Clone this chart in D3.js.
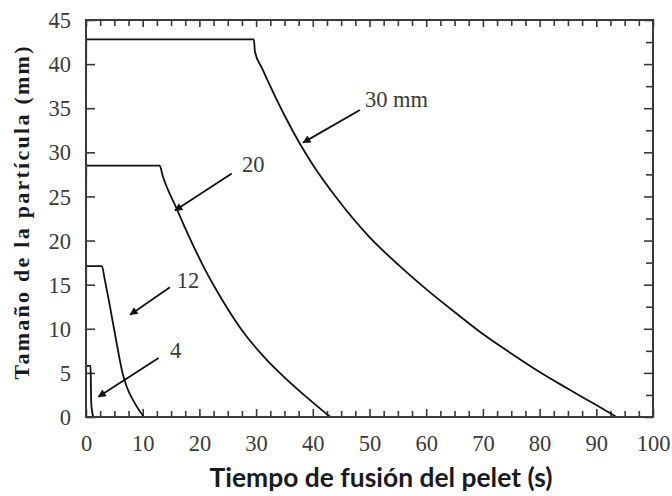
<!DOCTYPE html>
<html>
<head>
<meta charset="utf-8">
<script src="https://cdn.jsdelivr.net/npm/d3@7"></script>
<style>
  html, body { margin: 0; padding: 0; background: #fff; }
  svg { display: block; }
</style>
</head>
<body>
<svg id="chart" width="672" height="496"></svg>
<script>
// Pellet melting time vs particle size, for four initial pellet sizes
const timeTicks = [0, 10, 20, 30, 40, 50, 60, 70, 80, 90, 100];
const sizeTicks = [0, 5, 10, 15, 20, 25, 30, 35, 40, 45];

// [time (s), particle size (mm)]
const curve30 = [[0, 28], [0.05, 42.8], [29.6, 42.8], [29.8, 41.4], [31.0, 39.6], [32.5, 37.5],
  [35.0, 34.2], [37.7, 31.0], [40.0, 28.6], [44.0, 25.0], [50.0, 20.4], [55.0, 17.3],
  [60.0, 14.5], [65.0, 11.9], [70.0, 9.4], [75.0, 7.2], [80.0, 5.1], [85.0, 3.2],
  [90.0, 1.35], [93.6, 0]];
const curve20 = [[0, 17], [0.05, 28.5], [13.0, 28.5], [13.5, 27.4], [16.0, 23.6], [18.5, 20.0],
  [21.0, 16.7], [24.0, 13.3], [28.0, 9.4], [32.0, 6.4], [35.0, 4.5], [39.0, 2.2], [43.1, 0]];
const curve12 = [[0, 12], [0.05, 17.1], [2.8, 17.1], [3.3, 15.6], [4.0, 13.3], [4.6, 11.2],
  [5.2, 9.1], [5.8, 7.0], [6.4, 5.1], [7.2, 3.4], [8.4, 1.8], [10.2, 0]];
const curve4 = [[0, 4], [0.05, 5.8], [0.8, 5.8], [0.85, 4.5], [0.9, 2.0], [1.0, 1.0], [1.3, 0]];

// Callout labels: text anchor, arrow tail and arrow tip, in data units
const calloutLabels = ["30 mm", "20", "12", "4"];
const calloutText = [[49.2, 35.1], [27.5, 27.8], [16.0, 14.6], [14.8, 6.7]];
const calloutTail = [[48.3, 34.8], [25.7, 27.6], [14.8, 14.7], [12.8, 6.7]];
const calloutTip = [[38.3, 31.1], [15.7, 23.4], [7.8, 11.6], [2.2, 2.3]];

const svg = d3.select("#chart");
const margin = { left: 86, top: 20, right: 19, bottom: 79 };
const W = 672, H = 496;

const x = d3.scaleLinear().domain([0, 100]).range([margin.left, W - margin.right]);
const y = d3.scaleLinear().domain([0, 45]).range([H - margin.bottom, margin.top]);

const minorX = d3.range(0, 100.01, 2.5);
const minorY = d3.range(0, 45.01, 2.5);
const axisColor = "#3a3a3a";
const serif = "'Liberation Serif', 'Times New Roman', serif";

svg.append("rect").attr("width", W).attr("height", H).attr("fill", "#fff");

// Tick marks (drawn inward on all four sides)
function tickOnly(g) {
  g.select(".domain").remove();
  g.selectAll("text").remove();
  g.selectAll("line").attr("stroke", axisColor).attr("stroke-width", 1.6);
}
svg.append("g").attr("transform", `translate(0,${y(0)})`)
  .call(d3.axisBottom(x).tickValues(minorX).tickSize(-6).tickFormat(""))
  .call(tickOnly)
  .call(g => g.selectAll(".tick").filter(d => d % 10 === 0).select("line").attr("y2", -8));
svg.append("g").attr("transform", `translate(0,${y(45)})`)
  .call(d3.axisTop(x).tickValues(minorX).tickSize(-6).tickFormat(""))
  .call(tickOnly)
  .call(g => g.selectAll(".tick").filter(d => d % 10 === 0).select("line").attr("y2", 7));
svg.append("g").attr("transform", `translate(${x(100)},0)`)
  .call(d3.axisRight(y).tickValues(minorY).tickSize(-7).tickFormat(""))
  .call(tickOnly)
  .call(g => g.selectAll(".tick").filter(d => d % 5 === 0).select("line").attr("x2", -9));
svg.append("g").attr("transform", `translate(${x(0)},0)`)
  .call(d3.axisLeft(y).tickValues(sizeTicks).tickSize(-9).tickFormat(""))
  .call(tickOnly);

// Tick labels
const xLabels = svg.append("g").attr("transform", `translate(0,${y(0)})`)
  .call(d3.axisBottom(x).tickValues(timeTicks).tickSize(0).tickPadding(0).tickFormat(d3.format("d")));
xLabels.select(".domain").remove();
xLabels.selectAll("text")
  .attr("y", 34).attr("dy", null)
  .attr("font-family", serif).attr("font-size", 22.5).attr("fill", "#3a3a3a");

const yLabels = svg.append("g").attr("transform", `translate(${x(0)},0)`)
  .call(d3.axisLeft(y).tickValues(sizeTicks).tickSize(0).tickPadding(15).tickFormat(d3.format("d")));
yLabels.select(".domain").remove();
yLabels.selectAll("text")
  .attr("dy", "0.34em")
  .attr("font-family", serif).attr("font-size", 22.5).attr("fill", "#3a3a3a");

// Curves
const line = d3.line().x(d => x(d[0])).y(d => y(d[1])).curve(d3.curveMonotoneX);
[curve30, curve20, curve12, curve4].forEach(c => {
  svg.append("path").datum(c)
    .attr("d", line)
    .attr("fill", "none")
    .attr("stroke", "#111")
    .attr("stroke-width", 1.8)
    .attr("stroke-linejoin", "miter");
});

// Frame
svg.append("rect")
  .attr("x", x(0)).attr("y", y(45))
  .attr("width", x(100) - x(0)).attr("height", y(0) - y(45))
  .attr("fill", "none").attr("stroke", axisColor).attr("stroke-width", 2);

// Callout arrows and labels
svg.append("defs").append("marker")
  .attr("id", "head")
  .attr("viewBox", "0 0 10 10")
  .attr("refX", 9).attr("refY", 5)
  .attr("markerWidth", 10).attr("markerHeight", 8)
  .attr("markerUnits", "userSpaceOnUse")
  .attr("orient", "auto")
  .append("path").attr("d", "M0,0 L10,5 L0,10 Z").attr("fill", "#111");

calloutLabels.forEach((lab, i) => {
  svg.append("line")
    .attr("x1", x(calloutTail[i][0])).attr("y1", y(calloutTail[i][1]))
    .attr("x2", x(calloutTip[i][0])).attr("y2", y(calloutTip[i][1]))
    .attr("stroke", "#111").attr("stroke-width", 1.8)
    .attr("marker-end", "url(#head)");
  svg.append("text")
    .attr("x", x(calloutText[i][0])).attr("y", y(calloutText[i][1]))
    .attr("font-family", serif).attr("font-size", 22.5).attr("fill", "#3a3a3a")
    .text(lab);
});

// Axis titles
const xTitle = svg.append("text")
  .attr("x", 381).attr("y", 487)
  .attr("text-anchor", "middle")
  .attr("font-family", "Lato, 'Open Sans', sans-serif")
  .attr("font-weight", "bold").attr("font-size", 21)
  .attr("fill", "#1a1a22")
  .text("Tiempo de fusión del pelet (s)");
const xw = xTitle.node().getComputedTextLength();
xTitle.attr("font-size", 21 * 343 / xw);

svg.append("text")
  .attr("transform", "translate(29,213) rotate(-90)")
  .attr("text-anchor", "middle")
  .attr("font-family", serif)
  .attr("font-weight", "bold").attr("font-size", 22)
  .attr("textLength", 333).attr("lengthAdjust", "spacing")
  .attr("fill", "#1a1a22")
  .text("Tamaño de la partícula (mm)");
</script>
</body>
</html>
